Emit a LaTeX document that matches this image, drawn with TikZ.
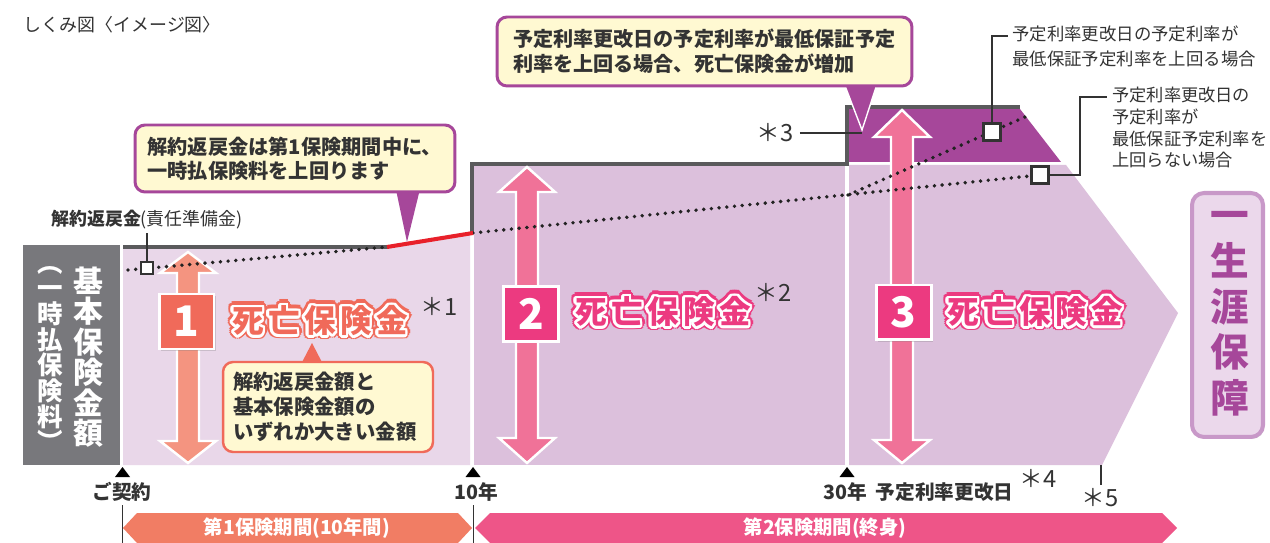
\documentclass[tikz,border=0pt]{standalone}
\usepackage{fontspec}
\setmainfont{Noto Sans CJK JP}
\usepackage[copies]{contour}
\usetikzlibrary{shadows}
\definecolor{lilA}{HTML}{E9D7E9}
\definecolor{lilB}{HTML}{DCC0DC}
\definecolor{purp}{HTML}{A6479A}
\definecolor{stepgray}{HTML}{5A5A5C}
\definecolor{boxgray}{HTML}{78787C}
\definecolor{cream}{HTML}{FFF9D2}
\definecolor{salm}{HTML}{F06A5A}
\definecolor{salmarrow}{HTML}{F49480}
\definecolor{salmband}{HTML}{F17D64}
\definecolor{pinkbox}{HTML}{EC3A80}
\definecolor{pinkarrow}{HTML}{F07298}
\definecolor{pinkband}{HTML}{EE5588}
\definecolor{redline}{HTML}{E8202A}
\definecolor{lifefill}{HTML}{EBD8EB}
\definecolor{lifeedge}{HTML}{C898C8}
\definecolor{txt}{HTML}{333333}
\definecolor{dotc}{HTML}{222222}
\newcommand\myfs[2]{\fontsize{#1pt}{#2pt}\selectfont}
\newcommand\shibou{死\hspace{2.5pt}亡\hspace{2.5pt}保\hspace{2.5pt}険\hspace{2.5pt}金}
\newcommand\dblarrow[6]{%
  \filldraw[fill=#1, draw=white, line width=1.4pt, line join=miter]
   (#2,#3) -- (#2+28,#4) -- (#2+11,#4) -- (#2+11,#5) -- (#2+28,#5) -- (#2,#6)
   -- (#2-28,#5) -- (#2-11,#5) -- (#2-11,#4) -- (#2-28,#4) -- cycle;}
\tikzset{
  stepline/.style={draw=stepgray, line width=2.3pt, line join=miter},
  dotline/.style={draw=dotc, line width=2.2pt, dash pattern=on 0pt off 4.4pt, line cap=round},
  leader/.style={draw=txt, line width=1.1pt},
  sqbig/.style={draw=txt, fill=white, line width=1.4pt, minimum size=0.34cm, inner sep=0pt},
  sqsmall/.style={draw=txt, fill=white, line width=1pt, minimum size=0.24cm, inner sep=0pt},
  callbox/.style={rounded corners=0.2cm, fill=cream, line width=1.7pt, align=left, text=txt, inner ysep=0pt},
  numbox/.style={draw=white, line width=1.7pt, minimum size=1.1cm, inner sep=0pt, text=white,
    font=\bfseries\myfs{24}{24}, drop shadow={shadow xshift=1pt, shadow yshift=-1pt, opacity=0.3}},
  dlabel/.style={font=\bfseries\myfs{18}{18}, inner sep=0pt},
  ast/.style={font=\myfs{13.5}{14}, text=txt, inner sep=0pt},
  axislabel/.style={font=\bfseries\myfs{11.2}{12}, text=txt, inner sep=0pt},
  bandtext/.style={font=\bfseries\myfs{11}{12}, text=white, inner sep=0pt},
  axtri/.style={fill=black},
  thinline/.style={draw=txt, line width=0.6pt},
  lifebox/.style={rounded corners=0.24cm, fill=lifefill, draw=lifeedge, line width=2.3pt,
    minimum width=1.42cm, minimum height=4.88cm, inner sep=0pt,
    drop shadow={shadow xshift=0.8pt, shadow yshift=-1pt, opacity=0.3}},
  annot/.style={align=left, text=txt, inner sep=0pt, anchor=north west},
}
\begin{document}
\begin{tikzpicture}[x=0.02cm,y=-0.02cm]
\useasboundingbox (0,0) rectangle (1270,543);
\fill[white] (0,0) rectangle (1270,543);
% regions
\fill[lilA] (123,247) -- (387,247) -- (470,234) -- (470,465) -- (123,465) -- cycle;
\fill[lilB] (474,165) rectangle (845,465);
\fill[lilB] (849,165) -- (1066,165) -- (1178,313) -- (1102,465) -- (849,465) -- cycle;
\fill[purp] (849,109) -- (1020,109) -- (1061,162) -- (849,162) -- cycle;
% step line
\draw[stepline] (123,247) -- (388,247);
\draw[stepline] (472,234) -- (472,164) -- (847,164) -- (847,107) -- (1020,107);
% arrows
\dblarrow{salmarrow}{188}{252}{273}{441}{463}
\dblarrow{pinkarrow}{527}{167}{192}{438}{463}
\dblarrow{pinkarrow}{902}{110}{137}{440}{463}
% dotted lines
\coordinate (d0) at (128,270);
\coordinate (d1) at (387,247);
\coordinate (d2) at (473,233);
\coordinate (dbr) at (848,195);
\coordinate (dend) at (1025,117);
\coordinate (d3) at (1040,175);
\draw[dotline] (d0) -- (d1);
\draw[dotline] (d2) -- (d3);
\draw[dotline] (dbr) -- (dend);
\draw[line width=2.3pt, redline] (d1) -- (d2);
% squares
\node[sqsmall] (sq1) at (147,268) {};
\node[sqbig] (sq2) at (992,132) {};
\node[sqbig] (sq3) at (1040,175) {};
% number boxes
\node[numbox, fill=salm] (n1) at (186.5,321.5) {1};
\node[numbox, fill=pinkbox] (n2) at (531,314) {2};
\node[numbox, fill=pinkbox] (n3) at (903.5,312.5) {3};
% death benefit labels
\node[dlabel, text=salm] at (320,322) {\contourlength{2.8pt}\contour{salm}{\shibou}};
\node[dlabel, text=salm] (lab1) at (320,322) {\contourlength{1.5pt}\contour{white}{\shibou}};
\node[dlabel, text=pinkbox] at (663,313) {\contourlength{2.8pt}\contour{pinkbox}{\shibou}};
\node[dlabel, text=pinkbox] (lab2) at (663,313) {\contourlength{1.5pt}\contour{white}{\shibou}};
\node[dlabel, text=pinkbox] at (1035,313) {\contourlength{2.8pt}\contour{pinkbox}{\shibou}};
\node[dlabel, text=pinkbox] (lab3) at (1035,313) {\contourlength{1.5pt}\contour{white}{\shibou}};
% asterisks
\node[ast] (a1) at (439,306) {＊1};
\node[ast] (a2) at (773,292) {＊2};
\node[ast] (a3) at (775,133) {＊3};
\node[ast] (a4) at (1038,478) {＊4};
\node[ast] (a5) at (1100,498) {＊5};
\draw[thinline] (1101,465) -- (1101,485);
% callout 1
\fill[purp] (395,185) -- (421,185) -- (407,242) -- cycle;
\node[callbox, draw=purp, minimum width=6.4cm, minimum height=1.34cm, text width=5.9cm, inner xsep=0.25cm,
  font=\bfseries\myfs{11.5}{13.6}] (c1) at (295,158.5) {解約返戻金は第1保険期間中に、\\一時払保険料を上回ります};
% callout 2
\coordinate (tip2) at (862,130);
\filldraw[fill=purp, draw=white, line width=0.8pt] (842,78) -- (879,78) -- (tip2) -- cycle;
\node[callbox, draw=purp, minimum width=8.3cm, minimum height=1.38cm, text width=7.66cm, inner xsep=0.32cm,
  font=\bfseries\myfs{11.45}{14.2}] (c2) at (704.5,51.5) {予定利率更改日の予定利率が最低保証予定\\利率を上回る場合、死亡保険金が増加};
\draw[thinline] (a3.east) ++(6,0) -- (a3.east -| tip2);
% callout 3
\fill[salm] (298,370) -- (326,370) -- (312,343) -- cycle;
\node[callbox, draw=salm, line width=1.4pt, minimum width=4.2cm, minimum height=1.8cm, text width=3.8cm, inner xsep=0.2cm,
  font=\bfseries\myfs{11.6}{14.2}] (c3) at (328,407) {解約返戻金額と\\基本保険金額の\\いずれか大きい金額};
% annotation labels
\node[font=\myfs{10.2}{12}, text=txt, inner sep=0pt] (lbl1) at (147,220) {\textbf{解約返戻金}(責任準備金)};
\draw[leader] (sq1.north) -- (sq1.north |- 0,233);
\node[annot, font=\myfs{9.9}{14.2}] (lbl2) at (1012,25) {予定利率更改日の予定利率が\\最低保証予定利率を上回る場合};
\coordinate (k2) at (1008,36);
\draw[leader] (sq2.north) |- (k2);
\node[annot, font=\myfs{9.8}{12.3}] (lbl3) at (1112,87) {予定利率更改日の\\予定利率が\\最低保証予定利率を\\上回らない場合};
\coordinate (k3) at (1107,97);
\draw[leader] (sq3.east) -- (1080,175) |- (k3);
% left gray box
\node[fill=boxgray, minimum width=1.94cm, minimum height=4.4cm, inner sep=0pt] (kbox) at (71.5,355) {};
\node[font=\bfseries\myfs{17}{17.35}, text=white, align=center, inner sep=0pt] (kihon) at (88,357) {基\\本\\保\\険\\金\\額};
\node[font=\bfseries\myfs{14.5}{14.6}, text=white, align=center, inner sep=0pt] (ichiji) at (50,359) {︵\\一\\時\\払\\保\\険\\料\\︶};
% axis
\fill[axtri] (115,477) -- (130,477) -- (122.5,467) -- cycle;
\fill[axtri] (465.5,477) -- (480.5,477) -- (473,467) -- cycle;
\fill[axtri] (839.5,477) -- (854.5,477) -- (847,467) -- cycle;
\node[axislabel] (t0) at (122,492) {ご契約};
\node[axislabel] (t10) at (476,492) {10年};
\node[axislabel, anchor=west] (t30) at (823,492) {30年\hspace{5pt}予定利率更改日};
% bands
\fill[salmband] (123,528) -- (137,513) -- (458,513) -- (472,528) -- (458,543) -- (137,543) -- cycle;
\fill[pinkband] (475,528) -- (490,513) -- (1162,513) -- (1177,528) -- (1162,543) -- (490,543) -- cycle;
\node[bandtext] (b1) at (297,528) {第1保険期間(10年間)};
\node[bandtext] (b2) at (825,528) {第2保険期間(終身)};
\draw[thinline] (122.5,505) -- (122.5,543);
\draw[thinline] (473.5,505) -- (473.5,543);
% lifetime box
\node[lifebox] (life) at (1227.5,315) {};
\node[font=\bfseries\myfs{22}{26}, text=purp, align=center, inner sep=0pt] (lifet) at (1230,314) {一\\生\\涯\\保\\障};
% title
\node[anchor=west, font=\myfs{10.2}{12}, text=txt, inner sep=0pt] (title) at (23,25) {しくみ図〈イメージ図〉};
\end{tikzpicture}
\end{document}
